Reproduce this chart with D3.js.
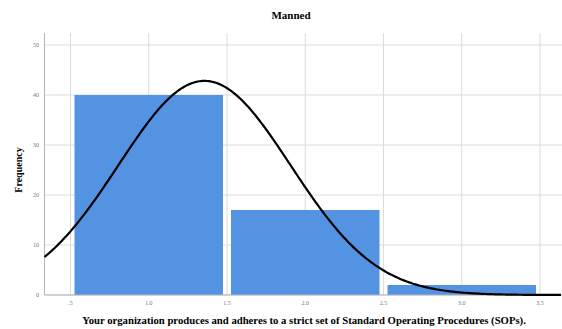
<!DOCTYPE html>
<html><head><meta charset="utf-8">
<script src="https://cdn.jsdelivr.net/npm/d3@7"></script>
<style>body{margin:0;background:#fff}svg{display:block}</style>
</head><body>
<script>
const binStarts = [0.5, 1.5, 2.5];
const binEnds = [1.5, 2.5, 3.5];
const counts = [40, 17, 2];
const categoryValues = [1, 2, 3];
const xTicks = [0.5, 1.0, 1.5, 2.0, 2.5, 3.0, 3.5];
const xTickLabels = [".5", "1.0", "1.5", "2.0", "2.5", "3.0", "3.5"];
const yTicks = [0, 10, 20, 30, 40, 50];
const title = "Manned";
const xTitle = "Your organization produces and adheres to a strict set of Standard Operating Procedures (SOPs).";
const yTitle = "Frequency";

(function () {
const W = 562, H = 329;
const svg = d3.select("body").append("svg").attr("width", W).attr("height", H);
const pLeft = 44.5, pRight = 562, pTop = 33, pBottom = 295;
const x = d3.scaleLinear().domain([0.5, 3.5]).range([70.5, 540]);
const y = d3.scaleLinear().domain([0, 50]).range([pBottom, 45]);

const g = svg.append("g");
g.selectAll(".gy").data(yTicks).enter().append("line")
  .attr("x1", pLeft).attr("x2", pRight).attr("y1", d => y(d)).attr("y2", d => y(d))
  .attr("stroke", "#dcdcdc").attr("stroke-width", 1);
g.selectAll(".gx").data(xTicks).enter().append("line")
  .attr("x1", d => x(d)).attr("x2", d => x(d)).attr("y1", pTop).attr("y2", pBottom)
  .attr("stroke", "#dcdcdc").attr("stroke-width", 1);

const n = d3.sum(counts);
svg.selectAll(".bar").data(counts).enter().append("rect")
  .attr("x", (d, i) => x(binStarts[i]) + 4)
  .attr("width", (d, i) => x(binEnds[i]) - x(binStarts[i]) - 8)
  .attr("y", d => y(d)).attr("height", d => y(0) - y(d))
  .attr("fill", "#5492e2");

svg.append("line").attr("x1", pLeft).attr("x2", pLeft).attr("y1", pTop).attr("y2", pBottom).attr("stroke", "#b5b5b5");
svg.append("line").attr("x1", pLeft).attr("x2", pRight).attr("y1", pBottom).attr("y2", pBottom).attr("stroke", "#b5b5b5");

const mean = d3.sum(counts.map((c, i) => c * categoryValues[i])) / n;
const sd = Math.sqrt(d3.sum(counts.map((c, i) => c * (categoryValues[i] - mean) ** 2)) / (n - 1));
const xs = d3.range(x.invert(pLeft), x.invert(pRight) + 0.001, 0.01);
const dens = v => n / (sd * Math.sqrt(2 * Math.PI)) * Math.exp(-0.5 * ((v - mean) / sd) ** 2);
svg.append("path").datum(xs)
  .attr("d", d3.line().x(v => x(v)).y(v => y(dens(v))))
  .attr("fill", "none").attr("stroke", "#000").attr("stroke-width", 2.2);

svg.selectAll(".yl").data(yTicks).enter().append("text")
  .attr("x", 39).attr("y", d => y(d) + 2).attr("text-anchor", "end")
  .attr("font-family", "Liberation Serif").attr("font-size", 6).attr("fill", "#777")
  .text(d => d);
svg.selectAll(".xl").data(xTicks).enter().append("text")
  .attr("x", d => x(d)).attr("y", 305).attr("text-anchor", "middle")
  .attr("font-family", "Liberation Serif").attr("font-size", 6).attr("fill", "#777")
  .text((d, i) => xTickLabels[i]);

svg.append("text").attr("x", 291).attr("y", 19).attr("text-anchor", "middle")
  .attr("font-family", "Liberation Serif").attr("font-weight", "bold").attr("font-size", 11).text(title);
svg.append("text").attr("x", 304).attr("y", 324).attr("text-anchor", "middle")
  .attr("font-family", "Liberation Serif").attr("font-weight", "bold").attr("font-size", 10.7).text(xTitle);
svg.append("text").attr("transform", "translate(22,170) rotate(-90)").attr("text-anchor", "middle")
  .attr("font-family", "Liberation Serif").attr("font-weight", "bold").attr("font-size", 10).text(yTitle);
})();
</script>
</body></html>
